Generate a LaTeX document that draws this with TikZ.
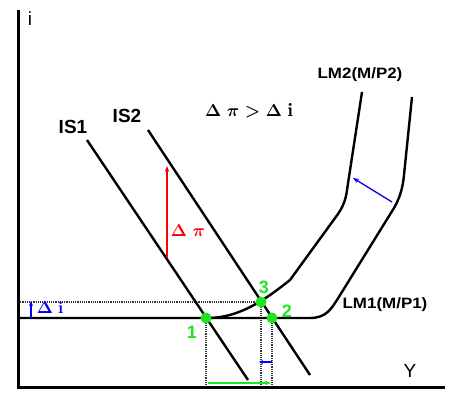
\documentclass[tikz,border=0pt]{standalone}
\usepackage{fontspec}
\newfontfamily\arialfont{Liberation Sans}
\usetikzlibrary{arrows.meta}
\definecolor{ptgreen}{RGB}{30,230,30}

\begin{document}
\begin{tikzpicture}[x=1pt, y=-1pt,
  axis/.style={line width=3pt, line join=miter},
  curve/.style={line width=2.4pt},
  guide/.style={densely dotted, line width=1.2pt, black!80},
  lab/.style={font=\arialfont\bfseries\fontsize{15}{15}\selectfont, inner sep=0pt},
  islab/.style={font=\arialfont\bfseries\fontsize{19}{19}\selectfont, inner sep=0pt},
  axlab/.style={font=\arialfont\fontsize{19}{19}\selectfont, inner sep=0pt},
  pt/.style={circle, fill=ptgreen, inner sep=0pt, minimum size=11pt},
  num/.style={font=\arialfont\bfseries\fontsize{18}{18}\selectfont, text=ptgreen, inner sep=0pt},
  greek/.style={font=\fontsize{17}{17}\selectfont\boldmath, inner sep=0pt},
  arr/.style={-{Stealth[length=6pt, width=4.5pt]}, line width=1.3pt}
]
\useasboundingbox (0,0) rectangle (450,406);

% equilibrium points and axis corner
\coordinate (o) at (18,387);
\coordinate (c1) at (206,318);
\coordinate (c2) at (272,318);
\coordinate (c3) at (261,302);

% dotted guides
\draw[guide] (o |- c3) -- (c3);
\draw[guide] (c1) -- (c1 |- o);
\draw[guide] (c3) -- (c3 |- o);
\draw[guide] (c2) -- (c2 |- o);

% axes
\draw[axis] (18,10) -- (o) -- (445,387);
\node[axlab] (iax) at (30,19) {i};
\node[axlab] (yax) at (410,371) {Y};

% LM curves
\draw[curve] (o |- c1) -- (310,318) .. controls (326,318) and (331,309) .. (337,300)
  -- (394,208) .. controls (401,196) and (403,185) .. (404,175) -- (412,97);
\draw[curve] (210,318) .. controls (240,317) and (265,300) .. (290,280)
  -- (338,214) .. controls (344,205) and (346,198) .. (347,190) -- (362,92);
\node[lab] (lm2) at (360,75) {\scalebox{1.13}[1]{LM2(M/P2)}};
\node[lab] (lm1) at (385,305) {\scalebox{1.13}[1]{LM1(M/P1)}};

% IS curves
\draw[curve] (87,140) -- (248,380);
\draw[curve] (148,130) -- (310,375);
\node[islab] (is1) at (73,127) {IS1};
\node[islab] (is2) at (127,116) {IS2};

% shifts
\coordinate (dpb) at (167,258);
\coordinate (dpt) at (167,166);
\draw[arr, red] (dpb) -- (dpt);
\node[greek, text=red] (dp) at (188,231) {$\Delta\;\pi$};

\coordinate (dib) at (31,318);
\coordinate (dit) at (31,301);
\draw[arr, blue, line width=1.6pt, -{Stealth[length=5pt, width=4pt]}] (dib) -- (dit);
\node[greek, text=blue] (di) at (50,308) {$\Delta\;\mathrm{i}$};

\coordinate (lms) at (392,202);
\coordinate (lme) at (353,178);
\draw[arr, blue] (lms) -- (lme);

\coordinate (gl) at (208,383);
\coordinate (gr) at (271,383);
\draw[arr, ptgreen] (gl) -- (gr);
\coordinate (bl) at (272,362);
\coordinate (br) at (259,362);
\draw[arr, blue, -{Stealth[length=4pt, width=4pt]}] (bl) -- (br);

\node[greek, font=\fontsize{19}{19}\selectfont\boldmath] (cmp) at (249,111) {$\Delta\;\pi>\Delta\;\mathrm{i}$};

% points
\node[pt] (p1) at (c1) {};
\node[pt] (p2) at (c2) {};
\node[pt] (p3) at (c3) {};
\node[num] (n1) at (192,332) {1};
\node[num] (n2) at (287,311) {2};
\node[num] (n3) at (264,287) {3};
\end{tikzpicture}
\end{document}
